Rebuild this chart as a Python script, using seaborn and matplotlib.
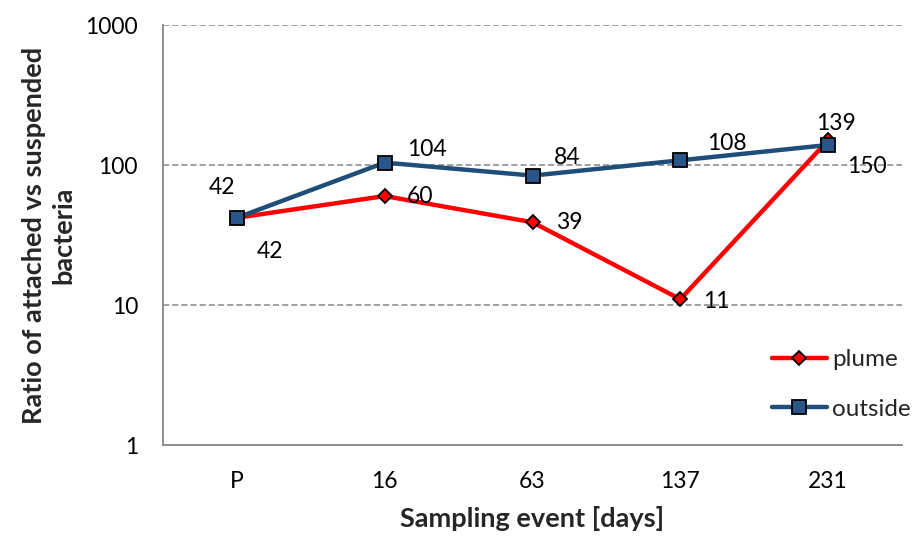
import matplotlib
matplotlib.use("Agg")
import matplotlib.pyplot as plt
import seaborn as sns
import pandas as pd
from matplotlib.ticker import FixedLocator, FixedFormatter, NullLocator

categories = ["P", "16", "63", "137", "231"]
plume = [42, 60, 39, 11, 150]
outside = [42, 104, 84, 108, 139]
y_ticks = [1, 10, 100, 1000]
y_tick_labels = ["1", "10", "100", "1000"]

# label offsets in pixels (dx, dy)
plume_offsets = [(33, -34), (35, 0), (37, 0), (36, -2), (39, -26)]
outside_offsets = [(-15, 30), (42, 13), (35, 18), (47, 17), (8, 21)]

sns.set_theme(style="white")
plt.rcParams['font.family'] = ['Lato', 'DejaVu Sans']

FS = 16.5

df = pd.DataFrame({
    "event": categories * 2,
    "ratio": plume + outside,
    "series": ["plume"] * len(categories) + ["outside"] * len(categories),
})

fig = plt.figure(figsize=(9.13, 5.36), dpi=100)
ax = fig.add_axes([163 / 913, 1 - 445 / 536, (902 - 163) / 913, (445 - 25) / 536])

palette = {"plume": "#FF0000", "outside": "#1F4E79"}
markers = {"plume": "D", "outside": "s"}
sns.lineplot(data=df, x="event", y="ratio", hue="series", style="series",
             palette=palette, markers=markers, dashes=False, sort=False,
             linewidth=3.2, markersize=9, ax=ax, legend=True)

for l in ax.get_lines():
    l.set_markeredgecolor("black")
    l.set_markeredgewidth(1.3)
    if l.get_marker() == "D":
        l.set_markerfacecolor("#FF0000")
        l.set_markersize(7.5)
    elif l.get_marker() == "s":
        l.set_markerfacecolor("#2A5589")
        l.set_markersize(9.5)

ax.set_yscale("log")
ax.set_ylim(1, 1000)
ax.set_xlim(-0.5, len(categories) - 0.5)
ax.yaxis.set_major_locator(FixedLocator(y_ticks))
ax.yaxis.set_major_formatter(FixedFormatter(y_tick_labels))
ax.yaxis.set_minor_locator(NullLocator())

# x ticks: labels at centers, tick marks at boundaries
ax.set_xticks(range(len(categories)))
ax.set_xticklabels(categories)
ax.tick_params(axis="x", which="major", length=0, pad=19, labelsize=FS, colors="black")
ax.set_xticks([i - 0.5 for i in range(len(categories) + 1)], minor=True)
ax.tick_params(axis="x", which="minor", length=6, width=1.3, color="#868686", direction="out")
ax.tick_params(axis="y", which="major", length=10, width=1.3, color="#868686",
               direction="inout", pad=13, labelsize=FS, labelcolor="black")

for yv in y_ticks[1:]:
    ax.axhline(yv, color="#868686", linestyle=(0, (4, 2)), linewidth=1.1, zorder=0)

for s in ["top", "right"]:
    ax.spines[s].set_visible(False)
for s in ["left", "bottom"]:
    ax.spines[s].set_color("#868686")
    ax.spines[s].set_linewidth(1.3)

for i, (v, off) in enumerate(zip(plume, plume_offsets)):
    ax.annotate(str(v), (categories[i], v), xytext=off, textcoords="offset pixels",
                ha="center", va="center", fontsize=FS, color="black")
for i, (v, off) in enumerate(zip(outside, outside_offsets)):
    ax.annotate(str(v), (categories[i], v), xytext=off, textcoords="offset pixels",
                ha="center", va="center", fontsize=FS, color="black")

ax.set_xlabel("Sampling event [days]", fontsize=19.5, fontweight="bold", labelpad=10)
ax.set_ylabel("Ratio of attached vs suspended\nbacteria", fontsize=19.5,
              fontweight="bold", labelpad=7, linespacing=1.3)

leg = ax.legend(loc="upper left", bbox_to_anchor=(772 / 913, 1 - 349 / 536),
                bbox_transform=fig.transFigure, frameon=False, fontsize=17.5,
                handlelength=2.26, handletextpad=0.2, labelspacing=1.18,
                borderpad=0, borderaxespad=0)
for h in leg.legend_handles:
    h.set_markeredgecolor("black")
    h.set_markeredgewidth(1.3)
    if h.get_marker() == "D":
        h.set_markerfacecolor("#FF0000")
        h.set_markersize(7.5)
    else:
        h.set_markerfacecolor("#2A5589")
        h.set_markersize(9.5)
    h.set_linewidth(3.2)

fig.savefig("out.png", dpi=100)
